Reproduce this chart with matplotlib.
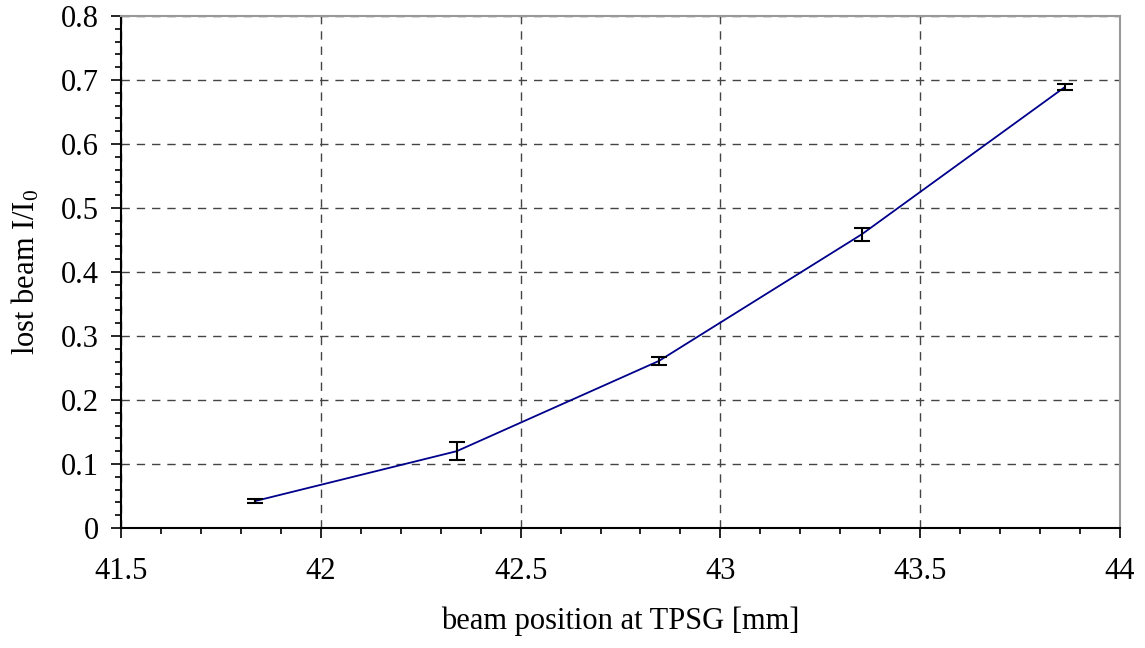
import matplotlib
matplotlib.use('Agg')
import matplotlib.pyplot as plt
from matplotlib.ticker import MultipleLocator

plt.rcParams['font.family'] = ['Liberation Serif', 'DejaVu Serif']
plt.rcParams['mathtext.default'] = 'regular'

#beam position [mm] and lost beam fraction with errors
position = [41.835, 42.34, 42.846, 43.354, 43.862]
lost = [0.042, 0.12, 0.261, 0.459, 0.689]
lost_err = [0.003, 0.014, 0.006, 0.01, 0.005]

xticks = [41.5, 42, 42.5, 43, 43.5, 44]
xticklabels = ['41.5', '42', '42.5', '43', '43.5', '44']
yticks = [0, 0.1, 0.2, 0.3, 0.4, 0.5, 0.6, 0.7, 0.8]
yticklabels = ['0', '0.1', '0.2', '0.3', '0.4', '0.5', '0.6', '0.7', '0.8']

def main():
	fig = plt.figure(figsize=(11.45, 6.48), dpi=100)
	ax = fig.add_axes([121/1145, 1-528/648, 999/1145, 512/648])

	ax.plot(position, lost, color='#00008b', lw=1.3, zorder=3)
	ax.errorbar(position, lost, yerr=lost_err, fmt='none', ecolor='black',
		elinewidth=1.5, capsize=5.5, capthick=1.5, zorder=4)

	ax.set_xlim(41.5, 44)
	ax.set_ylim(0, 0.8)
	ax.set_xticks(xticks)
	ax.set_xticklabels(xticklabels)
	ax.set_yticks(yticks)
	ax.set_yticklabels(yticklabels)
	ax.xaxis.set_minor_locator(MultipleLocator(0.1))
	ax.yaxis.set_minor_locator(MultipleLocator(0.02))

	ax.tick_params(which='major', direction='out', length=7, width=1.2, labelsize=22)
	ax.tick_params(which='minor', direction='out', length=4.5, width=1.2)
	ax.tick_params(axis='x', which='major', pad=14)
	ax.tick_params(axis='y', which='major', pad=9)

	ax.grid(True, which='major', color='#444444', linestyle=(0, (6, 5)), lw=1)
	for s in ['top', 'right']:
		ax.spines[s].set_color('#999999')
		ax.spines[s].set_linewidth(1.5)
	for s in ['left', 'bottom']:
		ax.spines[s].set_color('black')
		ax.spines[s].set_linewidth(1.5)

	ax.set_xlabel('beam position at TPSG [mm]', fontsize=22, labelpad=15)
	ax.set_ylabel('lost beam I/I$_0$', fontsize=22, labelpad=14)

	fig.savefig('out.png', dpi=100)

if __name__ == '__main__':
	main()
